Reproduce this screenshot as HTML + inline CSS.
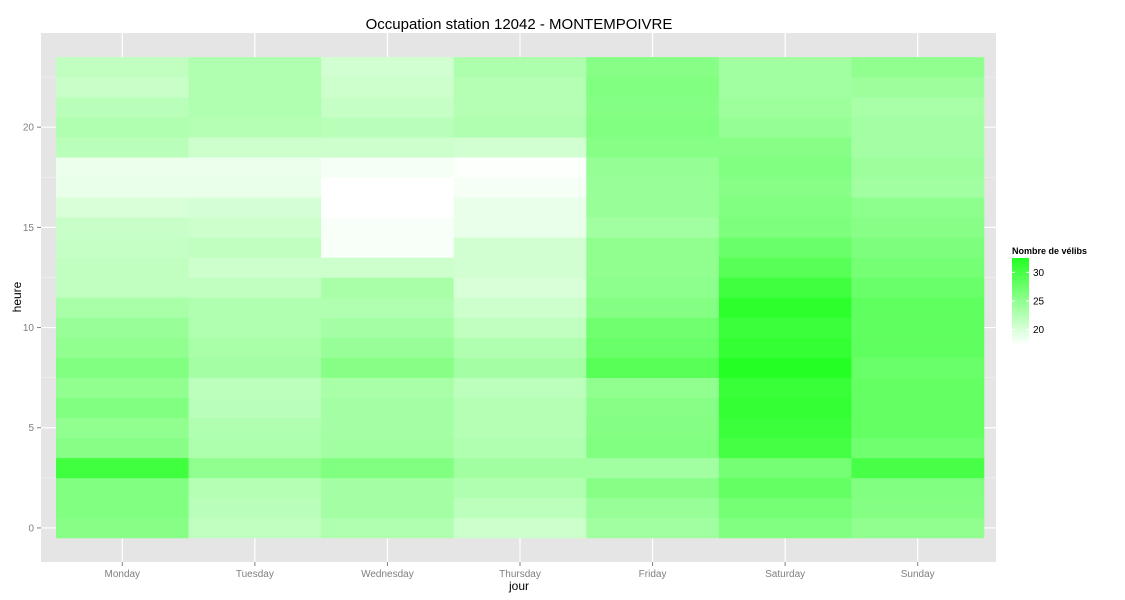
<!DOCTYPE html>
<html><head><meta charset="utf-8"><style>
body{margin:0;background:#fff;}
svg{display:block;font-family:"Liberation Sans",sans-serif;}
</style></head><body>
<svg id="chart" width="1125" height="600">
<rect x="0" y="0" width="1125" height="600" fill="#fff"/>
<rect x="41" y="33" width="955" height="529" fill="#E5E5E5"/>
<g id="grid"></g><g id="tiles"></g><g id="axes"></g>
<text x="519" y="29" text-anchor="middle" font-size="15" fill="#000">Occupation station 12042 - MONTEMPOIVRE</text>
<text x="519" y="590" text-anchor="middle" font-size="12" fill="#000">jour</text>
<text x="21" y="297" text-anchor="middle" font-size="12" fill="#000" transform="rotate(-90 21 297)">heure</text>
<g id="legend">
<defs><linearGradient id="lg" x1="0" y1="1" x2="0" y2="0"><stop offset="0" stop-color="#fff"/><stop offset="1" stop-color="#22ff22"/></linearGradient></defs>
<text x="1012" y="254" font-size="9" font-weight="bold" fill="#000">Nombre de vélibs</text>
<rect x="1012" y="258" width="17" height="87" fill="url(#lg)"/>
</g>
</svg>
<script>
const days = ["Monday","Tuesday","Wednesday","Thursday","Friday","Saturday","Sunday"];
const hours = [0,1,2,3,4,5,6,7,8,9,10,11,12,13,14,15,16,17,18,19,20,21,22,23];
const monday = [24.5,24.9,24.9,28.7,24.5,24.0,24.9,24.0,24.9,24.0,23.5,22.6,21.2,21.2,20.9,20.7,19.8,18.8,18.6,21.6,22.1,21.6,20.7,21.2];
const tuesday = [21.2,21.6,21.9,24.0,22.3,22.1,21.6,21.4,22.8,22.6,22.1,22.1,21.2,20.5,21.2,20.5,20.0,18.8,18.6,20.5,21.9,22.1,22.1,22.1];
const wednesday = [22.1,22.8,22.8,24.9,23.0,22.8,22.8,22.6,24.5,23.5,22.8,22.1,22.6,20.5,17.9,17.9,17.5,17.5,18.1,20.5,21.6,20.9,20.5,20.2];
const thursday = [20.5,21.4,22.1,23.0,22.1,21.9,21.9,21.4,22.8,22.1,21.2,20.5,19.8,20.2,20.2,18.8,18.8,18.1,17.7,20.2,22.1,21.9,21.9,22.3];
const friday = [23.0,23.5,24.5,23.0,24.9,24.7,24.5,24.0,27.3,26.3,25.9,24.7,24.2,24.0,24.0,23.0,23.5,23.5,23.7,24.5,24.9,24.7,24.9,24.5];
const saturday = [24.9,25.6,26.6,25.6,28.4,28.9,29.4,29.1,30.3,29.4,28.9,29.8,28.7,27.3,26.3,25.1,24.9,24.5,24.9,24.5,23.7,23.3,23.0,23.0];
const sunday = [24.0,24.7,24.9,28.2,25.9,26.6,26.6,26.6,26.3,26.8,26.8,26.8,26.3,25.6,25.1,24.5,24.2,23.0,23.3,22.8,22.8,22.6,23.3,24.0];
const series = [monday,tuesday,wednesday,thursday,friday,saturday,sunday];
const yTicks = [0,5,10,15,20];
const yMinor = [2.5,7.5,12.5,17.5,22.5];
const legendTicks = [20,25,30];

const NS="http://www.w3.org/2000/svg";
const PX0=41,PW=955,PY0=33,PH=529;
const yMin=-1.7,yMax=24.7;
function xs(v){return 56+(v-0.5)*(928/7);}
function ys(v){return PY0+PH-(v-yMin)/(yMax-yMin)*PH;}
const vMin=17.5,vMax=32.4;
function col(v){let t=(v-vMin)/(vMax-vMin);t=Math.max(0,Math.min(1,t));const r=Math.round(255*(1-t));return `rgb(${r},255,${r})`;}
function mk(tag,attrs,parent){const e=document.createElementNS(NS,tag);for(const k in attrs)e.setAttribute(k,attrs[k]);parent.appendChild(e);return e;}
const grid=document.getElementById('grid'),tiles=document.getElementById('tiles'),axes=document.getElementById('axes');
yMinor.forEach(h=>{const l=mk('line',{x1:PX0,x2:PX0+PW,y1:ys(h),y2:ys(h),stroke:'#F2F2F2','stroke-width':0.6},grid);

});
yTicks.forEach(h=>{const l=mk('line',{x1:PX0,x2:PX0+PW,y1:ys(h),y2:ys(h),stroke:'#fff','stroke-width':1.2},grid);


const t=mk('text',{x:34,y:ys(h)+3.5,'text-anchor':'end','font-size':10,fill:'#7f7f7f'},axes);t.textContent=h;


mk('line',{x1:37,x2:41,y1:ys(h),y2:ys(h),stroke:'#7f7f7f'},axes);});
days.forEach((d,i)=>{const l=mk('line',{x1:xs(i+1),x2:xs(i+1),y1:PY0,y2:PY0+PH,stroke:'#fff','stroke-width':1.2},grid);


const t=mk('text',{x:xs(i+1),y:577,'text-anchor':'middle','font-size':10,fill:'#7f7f7f'},axes);t.textContent=d;


mk('line',{x1:xs(i+1),x2:xs(i+1),y1:562,y2:566,stroke:'#7f7f7f'},axes);
series[i].forEach((v,h)=>{const x0=xs(i+0.5),x1=xs(i+1.5),y0=ys(hours[h]+0.5),y1=ys(hours[h]-0.5);
const r=mk('rect',{x:x0,y:y0,width:x1-x0+0.3,height:y1-y0+0.3,fill:col(v)},tiles);

});});
const lg=document.getElementById('legend');
function ly(v){return 345-(v-17.3)/(32.5-17.3)*87;}
legendTicks.forEach(v=>{mk('line',{x1:1012,x2:1015,y1:ly(v),y2:ly(v),stroke:'#fff'},lg);mk('line',{x1:1026,x2:1029,y1:ly(v),y2:ly(v),stroke:'#fff'},lg);
const t=mk('text',{x:1033,y:ly(v)+3.5,'font-size':10,fill:'#000'},lg);t.textContent=v;

});
</script>
</body></html>
